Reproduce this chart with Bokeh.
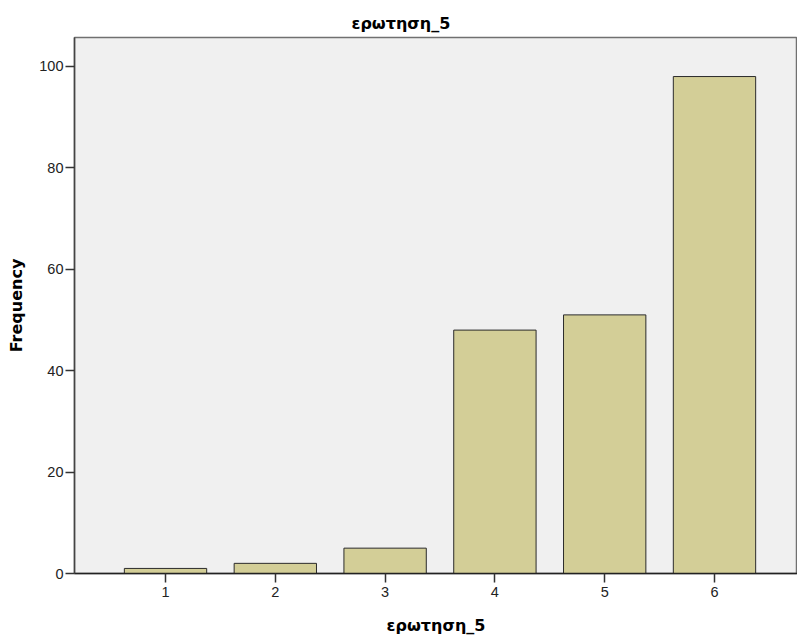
from bokeh.plotting import figure
from bokeh.models import ColumnDataSource, FixedTicker, Range1d, Title
from bokeh.embed import file_html
from bokeh.resources import INLINE

# Data
categories = [1, 2, 3, 4, 5, 6]
tick_labels = ["1", "2", "3", "4", "5", "6"]
frequency = [1, 2, 5, 48, 51, 98]
y_ticks = [0, 20, 40, 60, 80, 100]

source = ColumnDataSource(data=dict(x=categories, top=frequency))

p = figure(
    width=797, height=637,
    output_backend="svg", toolbar_location=None,
    x_range=Range1d(0.171, 6.756), y_range=Range1d(0, 105.7),
    min_border_left=74, min_border_right=0, min_border_top=37, min_border_bottom=63,
)

p.title = Title(text="ερωτηση_5", align="left", offset=277,
                text_font="DejaVu Sans", text_font_size="16px",
                text_font_style="bold", text_color="#000000", standoff=10)

p.vbar(x="x", top="top", bottom=0, width=0.75, source=source,
       fill_color="#d3ce97", line_color="#2b2b2b", line_width=1)

p.background_fill_color = "#f0f0f0"
p.border_fill_color = "#ffffff"
p.outline_line_color = "#707070"
p.outline_line_width = 1.5
p.xgrid.grid_line_color = None
p.ygrid.grid_line_color = None

# x axis
p.xaxis.ticker = FixedTicker(ticks=categories)
p.xaxis.major_label_overrides = {c: l for c, l in zip(categories, tick_labels)}
p.xaxis.axis_label = "ερωτηση_5"
p.xaxis.axis_label_text_font = "DejaVu Sans"
p.xaxis.axis_label_text_font_size = "16px"
p.xaxis.axis_label_text_font_style = "bold"
p.xaxis.axis_label_text_color = "#000000"
p.xaxis.axis_label_standoff = 16
p.xaxis.major_label_text_font = "Liberation Sans"
p.xaxis.major_label_text_font_size = "14.5px"
p.xaxis.major_label_text_color = "#222222"
p.xaxis.major_label_standoff = 4
p.xaxis.major_tick_out = 9
p.xaxis.major_tick_in = 0
p.xaxis.minor_tick_line_color = None
p.xaxis.axis_line_color = "#222222"
p.xaxis.axis_line_width = 1.5
p.xaxis.major_tick_line_color = "#333333"
p.xaxis.major_tick_line_width = 1.5

# y axis
p.yaxis.ticker = FixedTicker(ticks=y_ticks)
p.yaxis.axis_label = "Frequency"
p.yaxis.axis_label_text_font = "DejaVu Sans"
p.yaxis.axis_label_text_font_size = "16px"
p.yaxis.axis_label_text_font_style = "bold"
p.yaxis.axis_label_text_color = "#000000"
p.yaxis.axis_label_standoff = 10
p.yaxis.major_label_text_font = "Liberation Sans"
p.yaxis.major_label_text_font_size = "14.5px"
p.yaxis.major_label_text_color = "#222222"
p.yaxis.major_label_standoff = 2
p.yaxis.major_tick_out = 9
p.yaxis.major_tick_in = 0
p.yaxis.minor_tick_line_color = None
p.yaxis.axis_line_color = "#444444"
p.yaxis.axis_line_width = 1.5
p.yaxis.major_tick_line_color = "#333333"
p.yaxis.major_tick_line_width = 1.5

open("out.html", "w").write(file_html(p, INLINE))
